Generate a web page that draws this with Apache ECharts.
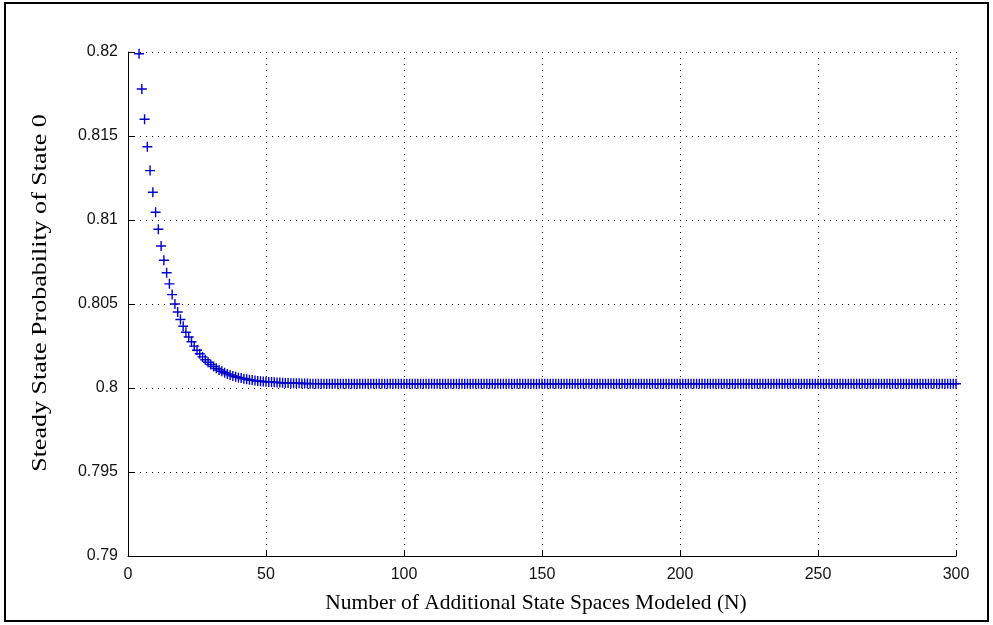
<!DOCTYPE html>
<html>
<head>
<meta charset="utf-8">
<title>Steady State Probability of State 0</title>
<script src="https://cdn.jsdelivr.net/npm/echarts@6/dist/echarts.min.js"></script>
<style>
  html, body { margin: 0; padding: 0; background: #ffffff; }
  #chart { width: 993px; height: 625px; }
</style>
</head>
<body>
<div id="chart"></div>
<script>
// Number of additional state spaces modeled: first N value, one point per N
const firstN = 4;

// Steady-state probability of state 0 for N = 4, 5, 6, ... 300
const probState0 = [
  0.81990, 0.81780, 0.81600, 0.81436, 0.81294, 0.81165, 0.81046, 0.80945, 0.80845, 0.80760,
  0.80686, 0.80620, 0.80556, 0.80500, 0.80452, 0.80408, 0.80368, 0.80332, 0.80304, 0.80275,
  0.80249, 0.80225, 0.80204, 0.80185, 0.80168, 0.80153, 0.80140, 0.80128, 0.80117, 0.80107,
  0.80099, 0.80091, 0.80084, 0.80078, 0.80072, 0.80067, 0.80063, 0.80059, 0.80055, 0.80052,
  0.80049, 0.80047, 0.80044, 0.80042, 0.80040, 0.80039, 0.80037, 0.80036, 0.80035, 0.80034,
  0.80033, 0.80032, 0.80031, 0.80030, 0.80030, 0.80029, 0.80029, 0.80028, 0.80028, 0.80027,
  0.80027, 0.80027, 0.80026, 0.80026, 0.80026, 0.80026, 0.80026,
  // N = 71 ... 300
  0.80025, 0.80025, 0.80025, 0.80025, 0.80025, 0.80025, 0.80025, 0.80025, 0.80025, 0.80025,
  0.80025, 0.80025, 0.80025, 0.80025, 0.80025, 0.80025, 0.80025, 0.80025, 0.80025, 0.80025,
  0.80025, 0.80025, 0.80025, 0.80025, 0.80025, 0.80025, 0.80025, 0.80025, 0.80025, 0.80025,
  0.80025, 0.80025, 0.80025, 0.80025, 0.80025, 0.80025, 0.80025, 0.80025, 0.80025, 0.80025,
  0.80025, 0.80025, 0.80025, 0.80025, 0.80025, 0.80025, 0.80025, 0.80025, 0.80025, 0.80025,
  0.80025, 0.80025, 0.80025, 0.80025, 0.80025, 0.80025, 0.80025, 0.80025, 0.80025, 0.80025,
  0.80025, 0.80025, 0.80025, 0.80025, 0.80025, 0.80025, 0.80025, 0.80025, 0.80025, 0.80025,
  0.80025, 0.80025, 0.80025, 0.80025, 0.80025, 0.80025, 0.80025, 0.80025, 0.80025, 0.80025,
  0.80025, 0.80025, 0.80025, 0.80025, 0.80025, 0.80025, 0.80025, 0.80025, 0.80025, 0.80025,
  0.80025, 0.80025, 0.80025, 0.80025, 0.80025, 0.80025, 0.80025, 0.80025, 0.80025, 0.80025,
  0.80025, 0.80025, 0.80025, 0.80025, 0.80025, 0.80025, 0.80025, 0.80025, 0.80025, 0.80025,
  0.80025, 0.80025, 0.80025, 0.80025, 0.80025, 0.80025, 0.80025, 0.80025, 0.80025, 0.80025,
  0.80025, 0.80025, 0.80025, 0.80025, 0.80025, 0.80025, 0.80025, 0.80025, 0.80025, 0.80025,
  0.80025, 0.80025, 0.80025, 0.80025, 0.80025, 0.80025, 0.80025, 0.80025, 0.80025, 0.80025,
  0.80025, 0.80025, 0.80025, 0.80025, 0.80025, 0.80025, 0.80025, 0.80025, 0.80025, 0.80025,
  0.80025, 0.80025, 0.80025, 0.80025, 0.80025, 0.80025, 0.80025, 0.80025, 0.80025, 0.80025,
  0.80025, 0.80025, 0.80025, 0.80025, 0.80025, 0.80025, 0.80025, 0.80025, 0.80025, 0.80025,
  0.80025, 0.80025, 0.80025, 0.80025, 0.80025, 0.80025, 0.80025, 0.80025, 0.80025, 0.80025,
  0.80025, 0.80025, 0.80025, 0.80025, 0.80025, 0.80025, 0.80025, 0.80025, 0.80025, 0.80025,
  0.80025, 0.80025, 0.80025, 0.80025, 0.80025, 0.80025, 0.80025, 0.80025, 0.80025, 0.80025,
  0.80025, 0.80025, 0.80025, 0.80025, 0.80025, 0.80025, 0.80025, 0.80025, 0.80025, 0.80025,
  0.80025, 0.80025, 0.80025, 0.80025, 0.80025, 0.80025, 0.80025, 0.80025, 0.80025, 0.80025,
  0.80025, 0.80025, 0.80025, 0.80025, 0.80025, 0.80025, 0.80025, 0.80025, 0.80025, 0.80025
];

// Axis ranges and ticks
const xTicks = [0, 50, 100, 150, 200, 250, 300];
const yTicks = [0.79, 0.795, 0.8, 0.805, 0.81, 0.815, 0.82];

const xTitle = 'Number of Additional State Spaces Modeled (N)';
const yTitle = 'Steady State Probability of State 0';

const points = probState0.map((p, i) => [firstN + i, p]);

// '+' marker drawn as a thin filled cross
const plusMarker = 'path://M-0.7,-5H0.7V-0.7H5V0.7H0.7V5H-0.7V0.7H-5V-0.7H-0.7Z';

const chart = echarts.init(document.getElementById('chart'), null, { renderer: 'canvas' });

const dotted = { color: '#000000', width: 1, type: [1, 5] };
const tickFont = { color: '#111111', fontFamily: 'Liberation Sans', fontSize: 16 };

chart.setOption({
  animation: false,
  backgroundColor: '#ffffff',
  grid: { left: 128, right: 37, top: 52, bottom: 69, containLabel: false },
  xAxis: {
    type: 'value',
    min: xTicks[0],
    max: xTicks[xTicks.length - 1],
    interval: xTicks[1] - xTicks[0],
    axisLine: { show: true, onZero: false, lineStyle: { color: '#000000', width: 1 } },
    axisTick: { show: true, inside: true, length: 6, lineStyle: { color: '#000000' } },
    axisLabel: Object.assign({ margin: 11 }, tickFont),
    splitLine: { show: true, lineStyle: dotted }
  },
  yAxis: {
    type: 'value',
    min: yTicks[0],
    max: yTicks[yTicks.length - 1],
    interval: 0.005,
    axisLine: { show: true, onZero: false, lineStyle: { color: '#000000', width: 1 } },
    axisTick: { show: true, inside: true, length: 6, lineStyle: { color: '#000000' } },
    axisLabel: Object.assign({
      margin: 10,
      formatter: v => String(parseFloat(v.toFixed(3)))
    }, tickFont),
    splitLine: { show: true, lineStyle: dotted }
  },
  series: [{
    type: 'scatter',
    data: points,
    symbol: plusMarker,
    symbolSize: 10,
    symbolKeepAspect: true,
    itemStyle: { color: '#0000c8', opacity: 1 },
    emphasis: { disabled: true },
    silent: true
  }],
  graphic: [
    {
      type: 'rect',
      shape: { x: 5, y: 3, width: 983, height: 618 },
      style: { fill: 'none', stroke: '#000000', lineWidth: 2 },
      silent: true,
      z: -1
    },
    {
      type: 'text',
      x: 536, y: 603,
      style: {
        text: xTitle,
        font: '21.5px "Liberation Serif"',
        fill: '#000000',
        align: 'center',
        verticalAlign: 'middle'
      },
      silent: true
    },
    {
      type: 'text',
      x: 40, y: 293,
      rotation: Math.PI / 2,
      scaleX: 1.21,
      style: {
        text: yTitle,
        font: '21.5px "Liberation Serif"',
        fill: '#000000',
        align: 'center',
        verticalAlign: 'middle'
      },
      silent: true
    }
  ]
});
</script>
</body>
</html>
